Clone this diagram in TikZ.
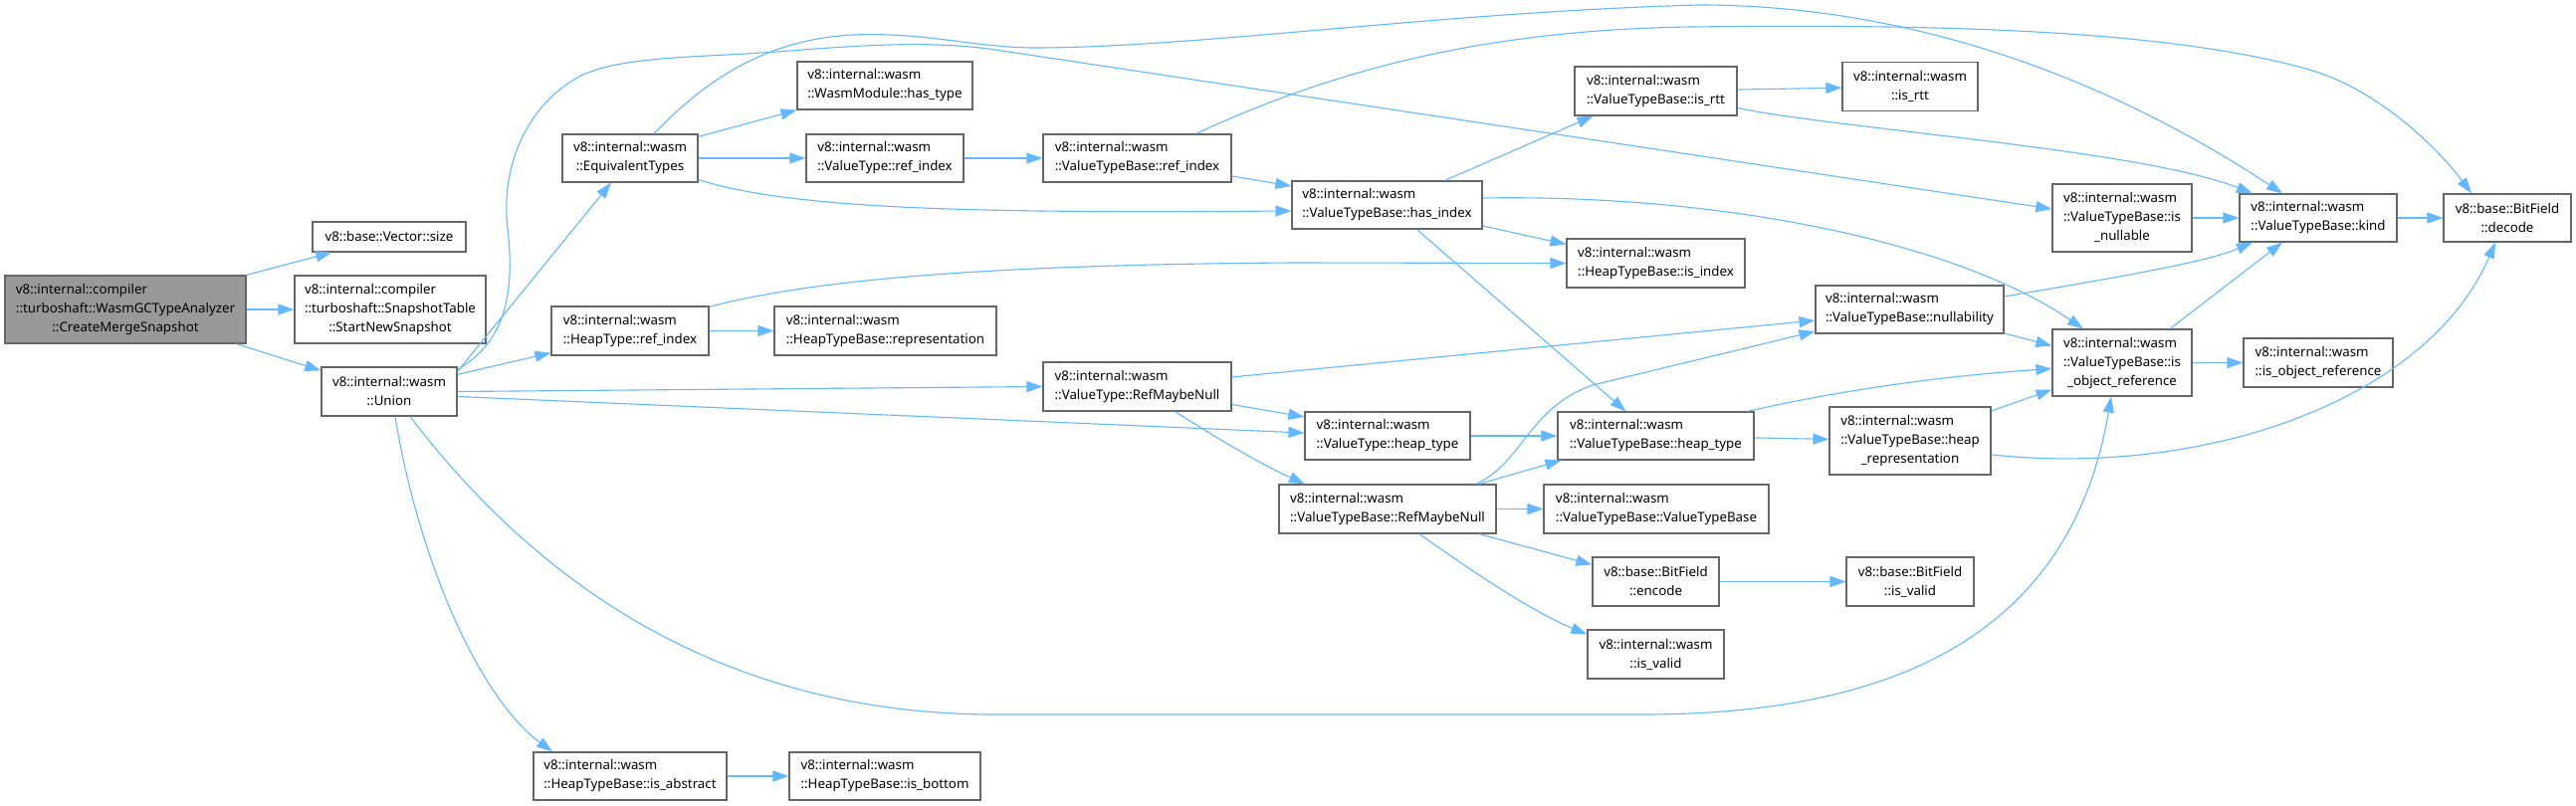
\documentclass[tikz,border=0pt]{standalone}
\usepackage{fontspec}
\setmainfont{Noto Sans}
\usetikzlibrary{arrows.meta}
\definecolor{edgeblue}{HTML}{63B8FF}
\definecolor{boxgray}{HTML}{666666}
\definecolor{rootfill}{HTML}{999999}
\newcommand\mixthree[3]{\begin{tabular}{@{}l@{}}#1\\#2\\\multicolumn{1}{@{}c@{}}{#3}\end{tabular}}
\begin{document}
\begin{tikzpicture}[x=1pt,y=-1pt,
  box/.style={draw=boxgray, line width=1.2pt, fill=white, rectangle, inner sep=0pt, font=\fontsize{13.3}{19}\selectfont, text=black},
  lbox/.style={box, align=left},
  cbox/.style={box, align=center},
  rootbox/.style={box, fill=rootfill},
  edge/.style={draw=edgeblue, line width=1.1pt, -{Triangle[length=16pt,width=11pt]}},
]
\useasboundingbox[fill=white] (0,0) rectangle (2588,810);

% nodes
\node[rootbox, minimum width=242pt, minimum height=68pt] (root) at (126,311) {\mixthree{v8::internal::compiler}{::turboshaft::WasmGCTypeAnalyzer}{::CreateMergeSnapshot}};
\node[lbox, minimum width=154pt, minimum height=30pt] (vsize) at (391,238) {v8::base::Vector::size};
\node[box, minimum width=192pt, minimum height=68pt] (snap) at (392,311) {\mixthree{v8::internal::compiler}{::turboshaft::SnapshotTable}{::StartNewSnapshot}};
\node[cbox, minimum width=136pt, minimum height=49pt] (union) at (391,393.5) {v8::internal::wasm\\::Union};
\node[cbox, minimum width=136pt, minimum height=48pt] (equiv) at (633,159) {v8::internal::wasm\\::EquivalentTypes};
\node[lbox, minimum width=158pt, minimum height=49pt] (htrefidx) at (633,332.5) {v8::internal::wasm\\::HeapType::ref\_index};
\node[lbox, minimum width=194pt, minimum height=48pt] (isabstract) at (633,780) {v8::internal::wasm\\::HeapTypeBase::is\_abstract};
\node[lbox, minimum width=176pt, minimum height=48pt] (hastype) at (889,86) {v8::internal::wasm\\::WasmModule::has\_type};
\node[lbox, minimum width=158pt, minimum height=48pt] (vtrefidx) at (889,159) {v8::internal::wasm\\::ValueType::ref\_index};
\node[lbox, minimum width=223pt, minimum height=49pt] (repr) at (889.5,332.5) {v8::internal::wasm\\::HeapTypeBase::representation};
\node[lbox, minimum width=192pt, minimum height=48pt] (isbottom) at (889,780) {v8::internal::wasm\\::HeapTypeBase::is\_bottom};
\node[lbox, minimum width=189pt, minimum height=48pt] (vtbrefidx) at (1142.5,159) {v8::internal::wasm\\::ValueTypeBase::ref\_index};
\node[lbox, minimum width=189pt, minimum height=49pt] (vtrefmn) at (1142.5,388.5) {v8::internal::wasm\\::ValueType::RefMaybeNull};
\node[lbox, minimum width=191pt, minimum height=48pt] (hasindex) at (1393.5,206) {v8::internal::wasm\\::ValueTypeBase::has\_index};
\node[lbox, minimum width=166pt, minimum height=48pt] (vtheaptype) at (1394,438) {v8::internal::wasm\\::ValueType::heap\_type};
\node[lbox, minimum width=218pt, minimum height=49pt] (vtbrefmn) at (1394,511.5) {v8::internal::wasm\\::ValueTypeBase::RefMaybeNull};
\node[lbox, minimum width=163pt, minimum height=49pt] (isrtt) at (1663.5,91.5) {v8::internal::wasm\\::ValueTypeBase::is\_rtt};
\node[lbox, minimum width=179pt, minimum height=49pt] (isindex) at (1663.5,264.5) {v8::internal::wasm\\::HeapTypeBase::is\_index};
\node[lbox, minimum width=197pt, minimum height=48pt] (vtbheaptype) at (1663.5,438) {v8::internal::wasm\\::ValueTypeBase::heap\_type};
\node[lbox, minimum width=226pt, minimum height=49pt] (vtbvtb) at (1664,511.5) {v8::internal::wasm\\::ValueTypeBase::ValueTypeBase};
\node[cbox, minimum width=127pt, minimum height=49pt] (encode) at (1663.5,584.5) {v8::base::BitField\\::encode};
\node[cbox, minimum width=137pt, minimum height=49pt] (wisvalid) at (1663.5,657.5) {v8::internal::wasm\\::is\_valid};
\node[cbox, minimum width=136pt, minimum height=49pt] (wisrtt) at (1919,87) {v8::internal::wasm\\::is\_rtt};
\node[lbox, minimum width=189pt, minimum height=48pt] (nullability) at (1918.5,311) {v8::internal::wasm\\::ValueTypeBase::nullability};
\node[box, minimum width=162pt, minimum height=68pt] (heaprepr) at (1919,443) {\mixthree{v8::internal::wasm}{::ValueTypeBase::heap}{\_representation}};
\node[cbox, minimum width=128pt, minimum height=49pt] (bfisvalid) at (1919,584.5) {v8::base::BitField\\::is\_valid};
\node[box, minimum width=140pt, minimum height=68pt] (isnullable) at (2132,219) {\mixthree{v8::internal::wasm}{::ValueTypeBase::is}{\_nullable}};
\node[box, minimum width=140pt, minimum height=67pt] (isobjref) at (2132,364.5) {\mixthree{v8::internal::wasm}{::ValueTypeBase::is}{\_object\_reference}};
\node[lbox, minimum width=158pt, minimum height=48pt] (kind) at (2329,219) {v8::internal::wasm\\::ValueTypeBase::kind};
\node[lbox, minimum width=150pt, minimum height=49pt] (wisobjref) at (2329,364.5) {v8::internal::wasm\\::is\_object\_reference};
\node[cbox, minimum width=128pt, minimum height=48pt] (decode) at (2519,219) {v8::base::BitField\\::decode};

% edges
\draw[edge] (root.north east) -- ([xshift=20pt]vsize.south west);
\draw[edge] (root) -- (snap);
\draw[edge] ([xshift=-10pt]root.south east) -- ([yshift=-4pt]union.north west);
\draw[edge] ([yshift=-5pt]union.north east) -- ([xshift=-19pt]equiv.south);
\draw[edge] ([yshift=-8pt]union.north east) -- ([yshift=3pt]htrefidx.south west);
\draw[edge] (union.east) -- (vtrefmn.west);
\draw[edge] ([yshift=-5pt]union.east) -- ([yshift=3pt]vtheaptype.west);
\draw[edge] ([xshift=6pt]union.south) .. controls (420,560) and (480,700) .. ([xshift=-78pt]isabstract.north);
\draw[edge] ([xshift=21pt]union.south) .. controls (520,560) and (700,718) .. (1000,718) -- (1650,718) .. controls (1900,718) and (2080,640) .. ([xshift=-11pt]isobjref.south);
\draw[edge] ([yshift=-3pt]union.north east) .. controls (505,345) and (518,300) .. (510,230) .. controls (502,160) and (535,103) .. (580,78) .. controls (620,56) and (700,58) .. (780,52) .. controls (860,46) and (930,40) .. (1000,50) -- ([yshift=9pt]isnullable.west);

\draw[edge] ([xshift=24pt]equiv.north) .. controls (700,90) and (760,40) .. (857,35) .. controls (930,32) and (980,48) .. (1040,48) .. controls (1200,48) and (1450,12) .. (1707,5) .. controls (1950,5) and (2150,100) .. ([xshift=-36pt]kind.north);
\draw[edge] ([yshift=-3pt]equiv.north east) -- (hastype.south west);
\draw[edge] (equiv) -- (vtrefidx);
\draw[edge] ([yshift=3pt]equiv.south east) .. controls (800,212) and (1000,214) .. ([yshift=-6pt]hasindex.west);

\draw[edge] (vtrefidx) -- (vtbrefidx);
\draw[edge] ([yshift=-18pt]vtbrefidx.east) -- ([yshift=19pt]hasindex.west);
\draw[edge] ([xshift=59pt]vtbrefidx.north) .. controls (1330,75) and (1480,30) .. (1700,27) .. controls (1950,24) and (2180,30) .. (2320,70) .. controls (2390,90) and (2450,150) .. ([xshift=-36pt]decode.north);

\draw[edge] ([xshift=58pt]hasindex.north) -- ([xshift=-63pt]isrtt.south);
\draw[edge] ([yshift=-21pt]hasindex.east) -- ([yshift=19pt]isindex.west);
\draw[edge] ([xshift=30pt]hasindex.south) -- ([xshift=-30pt]vtbheaptype.north);
\draw[edge] ([yshift=7pt]hasindex.east) .. controls (1720,195) and (1960,240) .. ([xshift=-39pt]isobjref.north);

\draw[edge] ([yshift=-1pt]htrefidx.north east) .. controls (820,280) and (1000,266) .. (1300,264) -- (isindex.west);
\draw[edge] (htrefidx) -- (repr);

\draw[edge] (isrtt) -- (wisrtt);
\draw[edge] ([yshift=-17pt]isrtt.east) .. controls (1850,130) and (2150,150) .. ([xshift=-66pt]kind.north);
\draw[edge] (isnullable) -- (kind);
\draw[edge] ([yshift=13pt]nullability.east) .. controls (2150,275) and (2220,262) .. ([xshift=-66pt]kind.south);
\draw[edge] ([xshift=48pt]isobjref.north) -- ([xshift=-36pt]kind.south);
\draw[edge] (isobjref) -- (wisobjref);
\draw[edge] (kind) -- (decode);
\draw[edge] ([yshift=-14pt]heaprepr.east) .. controls (2220,480) and (2440,400) .. ([xshift=-12pt]decode.south);
\draw[edge] ([yshift=-24pt]nullability.east) -- ([yshift=17pt]isobjref.west);
\draw[edge] ([xshift=92pt]vtbheaptype.north) .. controls (1850,392) and (1950,378) .. ([yshift=-6pt]isobjref.west);
\draw[edge] ([yshift=30pt]heaprepr.east) -- ([yshift=-27pt]isobjref.west);
\draw[edge] (vtbheaptype) -- (heaprepr);

\draw[edge] ([yshift=9.5pt]vtrefmn.east) -- ([yshift=-11pt]nullability.west);
\draw[edge] ([yshift=-18pt]vtrefmn.east) -- ([yshift=19pt]vtheaptype.west);
\draw[edge] ([xshift=38pt]vtrefmn.south) .. controls (1230,445) and (1270,468) .. ([xshift=-83pt]vtbrefmn.north);
\draw[edge] (vtheaptype) -- (vtbheaptype);
\draw[edge] ([xshift=89pt]vtbrefmn.north) .. controls (1530,465) and (1535,410) .. (1600,387) -- ([yshift=-22pt]nullability.west);
\draw[edge] ([xshift=92pt]vtbrefmn.north) -- ([xshift=-95pt]vtbheaptype.south);
\draw[edge] (vtbrefmn) -- (vtbvtb);
\draw[edge] ([xshift=92pt]vtbrefmn.south) -- ([yshift=17pt]encode.west);
\draw[edge] ([xshift=32pt]vtbrefmn.south) .. controls (1480,575) and (1540,615) .. ([yshift=20pt]wisvalid.west);
\draw[edge] (encode) -- (bfisvalid);
\draw[edge] (isabstract) -- (isbottom);
\end{tikzpicture}
\end{document}
